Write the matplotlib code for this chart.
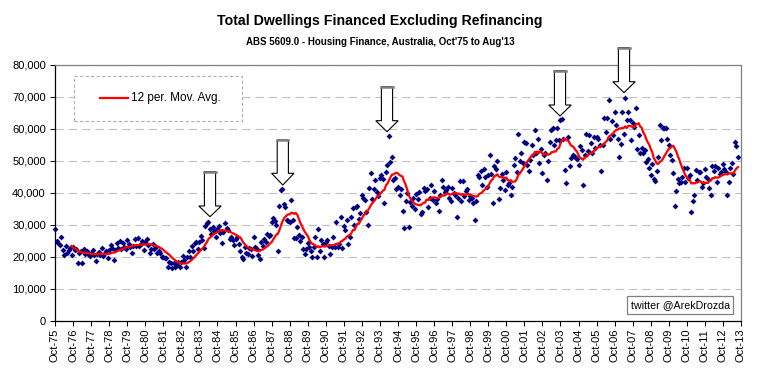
import numpy as np
import pandas as pd
import matplotlib
matplotlib.use("Agg")
import matplotlib.pyplot as plt
from matplotlib.patches import Polygon, Rectangle
from matplotlib.lines import Line2D
from matplotlib.ticker import FuncFormatter, MultipleLocator

plt.rcParams['font.family'] = ['Liberation Sans', 'DejaVu Sans']

# Monthly dwellings financed (thousands), Oct-1975 .. Aug-2013
dwellings_k = [
    28.7, 25.0, 24.5, 23.7, 26.3, 22.2, 20.6, 23.4, 21.2, 22.2, 22.7, 20.5,   # 75-76
    23.2, 22.1, 22.5, 18.0, 21.4, 21.8, 18.1, 22.4, 20.9, 21.9, 21.0, 20.3,   # 76-77
    21.2, 22.3, 20.6, 18.6, 20.8, 21.5, 20.6, 22.7, 20.3, 21.2, 22.0, 19.6,   # 77-78
    22.1, 23.6, 22.8, 19.2, 22.3, 24.5, 22.8, 25.0, 22.5, 24.3, 23.2, 22.6,   # 78-79
    25.2, 24.1, 23.2, 21.4, 23.4, 25.5, 23.5, 25.8, 23.3, 24.2, 25.1, 22.3,   # 79-80
    24.6, 25.7, 23.6, 21.3, 22.4, 24.0, 22.4, 23.0, 21.3, 22.0, 21.1, 19.9,   # 80-81
    20.1, 19.8, 19.7, 16.8, 18.3, 18.2, 16.5, 18.0, 17.0, 17.6, 18.3, 16.9,   # 81-82
    18.5, 20.3, 19.0, 17.0, 20.0, 22.0, 20.0, 23.5, 21.8, 24.3, 24.6, 22.6,   # 82-83
    24.8, 26.5, 25.3, 22.8, 29.6, 30.6, 31.0, 28.8, 27.2, 29.5, 28.0, 26.3,   # 83-84
    28.6, 29.8, 27.6, 24.4, 27.9, 30.6, 29.0, 28.3, 25.6, 26.4, 25.2, 23.6,   # 84-85
    25.6, 26.3, 24.0, 21.8, 20.1, 19.4, 23.0, 21.2, 20.8, 22.8, 22.5, 20.2,   # 85-86
    26.4, 23.0, 22.4, 20.5, 19.4, 24.6, 23.5, 25.6, 24.8, 27.3, 26.7, 27.0,   # 86-87
    31.0, 32.2, 31.3, 30.0, 22.0, 36.0, 41.0, 41.2, 36.6, 35.5, 31.7, 31.3,   # 87-88
    31.0, 37.8, 31.6, 25.8, 26.0, 29.5, 27.0, 25.0, 26.3, 22.6, 21.0, 22.5,   # 88-89
    24.5, 23.2, 22.0, 20.1, 23.2, 26.4, 20.1, 28.6, 22.0, 25.3, 24.0, 19.9,   # 89-90
    24.8, 25.4, 23.5, 20.8, 23.2, 26.4, 23.0, 31.0, 23.2, 24.0, 32.5, 22.8,   # 90-91
    29.7, 28.4, 31.6, 24.0, 26.4, 32.6, 35.2, 30.0, 35.5, 36.0, 32.0, 33.8,   # 91-92
    39.4, 38.5, 37.8, 34.0, 30.0, 41.5, 46.1, 38.0, 41.4, 44.1, 40.2, 39.0,   # 92-93
    44.8, 45.6, 44.5, 36.8, 46.5, 48.8, 57.8, 49.8, 51.3, 44.1, 44.8, 41.4,   # 93-94
    42.0, 39.5, 41.4, 34.4, 29.0, 37.5, 39.9, 29.5, 37.3, 36.0, 38.3, 35.0,   # 94-95
    39.6, 38.0, 40.4, 33.3, 34.0, 41.7, 40.5, 41.2, 35.7, 38.5, 42.5, 37.8,   # 95-96
    40.5, 36.8, 38.0, 34.5, 39.4, 44.1, 42.0, 40.2, 41.0, 42.0, 38.5, 37.5,   # 96-97
    41.7, 40.0, 39.5, 32.6, 38.5, 43.7, 37.5, 43.7, 39.0, 40.5, 41.2, 37.8,   # 97-98
    39.0, 38.5, 36.8, 31.6, 37.5, 45.5, 45.1, 46.9, 42.5, 47.5, 45.0, 42.0,   # 98-99
    45.5, 51.9, 46.0, 36.8, 48.5, 47.5, 50.0, 38.0, 41.5, 46.0, 44.0, 41.0,   # 99-00
    46.7, 42.5, 43.0, 39.4, 42.0, 48.8, 51.0, 46.5, 58.3, 50.0, 52.5, 49.5,   # 00-01
    55.8, 55.5, 48.8, 47.0, 50.3, 55.0, 51.9, 59.7, 52.5, 56.9, 49.3, 53.9,   # 01-02
    46.4, 52.0, 52.5, 44.0, 50.0, 56.0, 59.7, 60.2, 55.0, 56.5, 60.2, 56.5,   # 02-03
    62.8, 63.1, 57.0, 47.2, 43.0, 57.6, 48.5, 51.0, 52.0, 51.5, 51.0, 50.5,   # 03-04
    48.8, 54.8, 53.4, 42.5, 52.0, 58.3, 53.0, 58.0, 55.5, 52.5, 57.5, 54.0,   # 04-05
    57.5, 57.0, 55.0, 46.9, 55.0, 63.3, 59.0, 63.5, 69.1, 57.0, 62.5, 58.0,   # 05-06
    65.2, 61.3, 57.0, 51.3, 55.2, 65.2, 58.3, 69.8, 62.8, 65.2, 62.8, 56.6,   # 06-07
    62.0, 60.5, 66.7, 53.8, 58.1, 52.4, 54.2, 52.4, 53.5, 49.6, 50.5, 47.9,   # 07-08
    45.6, 49.2, 44.4, 43.8, 46.9, 51.1, 61.4, 56.6, 60.2, 60.2, 60.2, 57.0,   # 08-09
    55.0, 51.9, 50.3, 46.1, 36.0, 40.6, 44.5, 43.0, 43.5, 45.0, 47.7, 43.5,   # 09-10
    47.7, 44.6, 45.5, 34.0, 37.5, 39.4, 47.2, 44.0, 46.5, 46.7, 42.0, 43.0,   # 10-11
    47.5, 45.0, 44.5, 41.5, 39.4, 48.5, 47.0, 48.5, 43.5, 47.7, 46.0, 46.5,   # 11-12
    49.0, 47.5, 46.5, 39.4, 43.5, 47.7, 49.3, 46.0, 56.0, 54.7, 51.3,         # 12-13
]

tick_labels = ["Oct-75", "Oct-76", "Oct-77", "Oct-78", "Oct-79", "Oct-80", "Oct-81",
               "Oct-82", "Oct-83", "Oct-84", "Oct-85", "Oct-86", "Oct-87", "Oct-88",
               "Oct-89", "Oct-90", "Oct-91", "Oct-92", "Oct-93", "Oct-94", "Oct-95",
               "Oct-96", "Oct-97", "Oct-98", "Oct-99", "Oct-00", "Oct-01", "Oct-02",
               "Oct-03", "Oct-04", "Oct-05", "Oct-06", "Oct-07", "Oct-08", "Oct-09",
               "Oct-10", "Oct-11", "Oct-12", "Oct-13"]

ma_window = 12

values = pd.Series(np.array(dwellings_k) * 1000.0)
x = np.arange(len(values))
ma = values.rolling(ma_window).mean()

W, H = 760, 381
fig = plt.figure(figsize=(W / 100, H / 100), dpi=100)

def fx(px):
    return px / W

def fy(py):
    return 1 - py / H

ax_l, ax_r, ax_t, ax_b = 55, 741, 65, 321
ax = fig.add_axes([fx(ax_l), fy(ax_b), fx(ax_r) - fx(ax_l), fy(ax_t) - fy(ax_b)])

ax.set_xlim(0, 12 * (len(tick_labels) - 1))
ax.set_ylim(0, 80000)

ax.yaxis.set_major_locator(MultipleLocator(10000))
ax.yaxis.set_major_formatter(FuncFormatter(lambda v, p: f"{int(v):,}"))
ax.yaxis.grid(True, color='#c0c0c0', linestyle=(0, (7.5, 4.5)), linewidth=0.8, zorder=0)
ax.set_axisbelow(True)

ax.set_xticks(np.arange(0, 12 * len(tick_labels), 12))
ax.set_xticklabels(tick_labels, rotation=90, fontsize=8)
ax.tick_params(axis='both', direction='out', length=3.6, width=0.75, colors='black', labelsize=8)
ax.tick_params(axis='x', pad=2)
ax.tick_params(axis='y', pad=3)

for s in ['left', 'bottom']:
    ax.spines[s].set_color('black')
    ax.spines[s].set_linewidth(0.9)
for s in ['top', 'right']:
    ax.spines[s].set_color('#808080')
    ax.spines[s].set_linewidth(0.9)

ax.plot(x, values, linestyle='none', marker='D', markersize=3.0, color='#000080',
        markeredgewidth=0, zorder=3, clip_on=False)
ax.plot(x, ma, color='#ff0000', linewidth=1.6, zorder=4)

# Titles
fig.text(0.5, fy(21), "Total Dwellings Financed Excluding Refinancing",
         ha='center', va='center', fontsize=10.2, fontweight='bold')
fig.text(0.5, fy(42), "ABS 5609.0 - Housing Finance, Australia, Oct'75 to Aug'13",
         ha='center', va='center', fontsize=7.0, fontweight='bold')

# Legend box (dashed frame)
lg_l, lg_r, lg_t, lg_b = 74.3, 242.3, 76, 121
fig.patches.append(Rectangle((fx(lg_l), fy(lg_b)), fx(lg_r) - fx(lg_l), fy(lg_t) - fy(lg_b),
                             transform=fig.transFigure, facecolor='white',
                             edgecolor='#b0b0b0', linestyle=(0, (3, 2)), linewidth=0.8,
                             zorder=5))
fig.lines.append(Line2D([fx(100), fx(127.7)], [fy(97.7), fy(97.7)], transform=fig.transFigure,
                        color='#ff0000', linewidth=1.6, zorder=6))
fig.text(fx(131), fy(97.7), "12 per. Mov. Avg.", ha='left', va='center', fontsize=8.5, zorder=6)

# Twitter box
fig.patches.append(Rectangle((fx(627.3), fy(314)), fx(733.3) - fx(627.3), fy(296) - fy(314),
                             transform=fig.transFigure, facecolor='white',
                             edgecolor='#808080', linewidth=0.9, zorder=5))
fig.text(fx(680.3), fy(305), "twitter @ArekDrozda", ha='center', va='center',
         fontsize=7.7, zorder=6)

# Block arrows (cx, top, head_top, tip) in pixels
arrows = [(210, 171.7, 206, 216.7), (282.8, 140, 173.3, 185), (387, 86.7, 120.7, 131.7),
          (560, 70.7, 105, 116), (624, 47.7, 81.7, 92.7)]
sw, hw = 5.6, 11.2
for cx, top, ht, tip in arrows:
    pts = [(cx - sw, top), (cx + sw, top), (cx + sw, ht), (cx + hw, ht), (cx, tip),
           (cx - hw, ht), (cx - sw, ht)]
    fig.patches.append(Polygon([(fx(a), fy(b)) for a, b in pts], closed=True,
                               transform=fig.transFigure, facecolor='white',
                               edgecolor='black', linewidth=0.8, zorder=7))
    fig.lines.append(Line2D([fx(cx - sw), fx(cx + sw)], [fy(top), fy(top)],
                            transform=fig.transFigure, color='#808080', linewidth=1.8,
                            zorder=8))

fig.savefig("out.png", dpi=100)
